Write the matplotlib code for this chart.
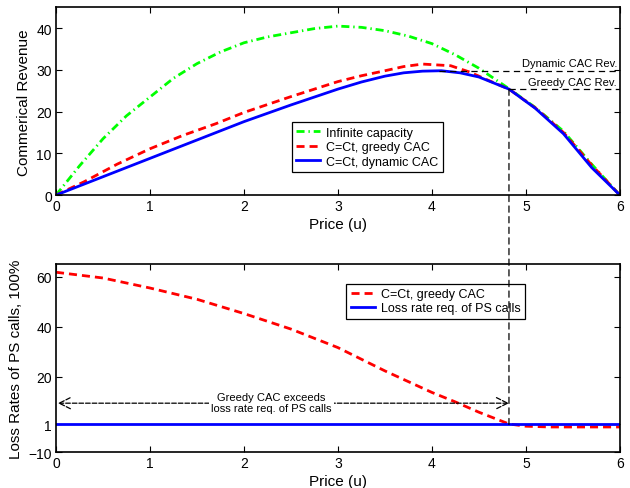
#!/usr/bin/env python3
"""
Commercial revenue and PS-call loss rates vs price
"""

import matplotlib.pyplot as plt
from matplotlib.patches import ConnectionPatch

plt.rcParams['font.family'] = ['Liberation Sans', 'DejaVu Sans']

# Top panel: revenue curves
price_inf = [0, 0.25, 0.5, 0.75, 1, 1.25, 1.5, 1.75, 2, 2.25, 2.5, 2.75, 3, 3.25, 3.5, 3.75, 4,
             4.25, 4.5, 4.82, 5.1, 5.4, 5.7, 6]
rev_inf = [0, 7, 13.5, 19, 23.5, 28, 31.5, 34.3, 36.5, 37.9, 38.9, 39.9, 40.5, 40.2, 39.4, 38.1, 36.3,
           33.6, 30.4, 25.5, 21, 15.3, 7.4, 0]

price_greedy = [0, 0.3, 0.65, 1, 1.35, 1.7, 2, 2.5, 3, 3.25, 3.5, 3.7, 3.9, 4.2, 4.4, 4.6, 4.82,
                5.1, 5.4, 5.7, 6]
rev_greedy = [0, 3.2, 7.4, 11.1, 14.3, 17.1, 19.8, 23.6, 27.2, 28.6, 29.8, 30.8, 31.4, 31, 29.5, 27.5,
              25.4, 20.9, 15, 7.2, 0]

price_dyn = [0, 0.5, 1, 1.5, 2, 2.5, 3, 3.25, 3.5, 3.7, 3.9, 4.1, 4.3, 4.5, 4.82, 5.1, 5.4, 5.7, 6]
rev_dyn = [0, 4.4, 8.8, 13.2, 17.6, 21.6, 25.4, 27.1, 28.5, 29.3, 29.7, 29.8, 29.3, 28.3, 25.4, 20.8,
           14.7, 6.6, 0]

# Bottom panel: loss rates
price_loss = [0, 0.5, 1, 1.5, 2, 2.5, 3, 3.5, 4, 4.25, 4.5, 4.82, 5, 5.25, 5.5, 6]
loss_greedy = [61.8, 59.5, 55.5, 51, 45.3, 39.1, 31.7, 22.4, 13.8, 10, 5.9, 1.2, 0.3, 0, 0, 0]
price_req = [0, 6]
loss_req = [1, 1]

# Reference markers
p_cross = 4.82
dyn_rev, dyn_start = 29.8, 4.08
greedy_rev = 25.4
arrow_y = 9.5

fig = plt.figure(figsize=(6.3, 4.89), dpi=100)
ax1 = fig.add_axes([0.0889, 0.599, 0.895, 0.384])
ax2 = fig.add_axes([0.0889, 0.0736, 0.895, 0.384])

lw = 2.0
green_ls = (0, (2.9, 1.4, 0.5, 1.4))
red_ls = (0, (2.9, 1.8))

ax1.plot(price_inf, rev_inf, color='#00ff00', lw=lw, ls=green_ls, label='Infinite capacity')
ax1.plot(price_greedy, rev_greedy, color='red', lw=lw, ls=red_ls, label='C=Ct, greedy CAC')
ax1.plot(price_dyn, rev_dyn, color='blue', lw=lw, label='C=Ct, dynamic CAC')

dash = (0, (5, 3.5))
ax1.plot([dyn_start, 6], [dyn_rev, dyn_rev], color='k', lw=0.9, ls=dash)
ax1.plot([p_cross, 6], [greedy_rev, greedy_rev], color='k', lw=0.9, ls=dash)
ax1.text(5.97, dyn_rev + 0.6, 'Dynamic CAC Rev.', ha='right', va='bottom', fontsize=8)
ax1.text(5.97, greedy_rev + 0.6, 'Greedy CAC Rev.', ha='right', va='bottom', fontsize=8)

ax1.set_xlim(0, 6)
ax1.set_ylim(0, 45)
ax1.set_yticks([0, 10, 20, 30, 40])
ax1.set_xlabel('Price (u)', fontsize=11, labelpad=3)
ax1.set_ylabel('Commerical Revenue', fontsize=11)
ax1.legend(loc='upper left', bbox_to_anchor=(0.418, 0.388), fontsize=9,
           fancybox=False, edgecolor='k', framealpha=1, borderpad=0.35,
           handlelength=1.9, handletextpad=0.5, labelspacing=0.2,
           borderaxespad=0).get_frame().set_linewidth(0.9)

ax2.plot(price_loss, loss_greedy, color='red', lw=lw, ls=red_ls, label='C=Ct, greedy CAC')
ax2.plot(price_req, loss_req, color='blue', lw=lw, label='Loss rate req. of PS calls')

ax2.annotate('', xy=(0.02, arrow_y), xytext=(p_cross, arrow_y),
             arrowprops=dict(arrowstyle='<->', color='k', lw=0.9, ls='--',
                             shrinkA=0, shrinkB=0, mutation_scale=20))
ax2.text(2.29, arrow_y + 0.3, 'Greedy CAC exceeds\nloss rate req. of PS calls',
         ha='center', va='center', fontsize=8, linespacing=1.1,
         bbox=dict(facecolor='white', edgecolor='none', pad=1.5))

ax2.set_xlim(0, 6)
ax2.set_ylim(-10, 65)
ax2.set_yticks([-10, 1, 20, 40, 60])
ax2.set_xlabel('Price (u)', fontsize=11, labelpad=3)
ax2.set_ylabel('Loss Rates of PS calls, 100%', fontsize=11)
ax2.legend(loc='upper left', bbox_to_anchor=(0.515, 0.897), fontsize=9,
           fancybox=False, edgecolor='k', framealpha=1, borderpad=0.35,
           handlelength=1.9, handletextpad=0.5, labelspacing=0.2,
           borderaxespad=0).get_frame().set_linewidth(0.9)

for ax in (ax1, ax2):
    ax.tick_params(direction='in', top=True, right=True, length=4, width=0.8,
                   labelsize=10, pad=3)
    for s in ax.spines.values():
        s.set_linewidth(1.2)

# vertical dashed line linking both panels
con = ConnectionPatch(xyA=(p_cross, greedy_rev), coordsA=ax1.transData,
                      xyB=(p_cross, 1), coordsB=ax2.transData,
                      color='k', lw=0.9, ls=dash, zorder=10)
fig.add_artist(con)

plt.savefig('out.png', dpi=100)
